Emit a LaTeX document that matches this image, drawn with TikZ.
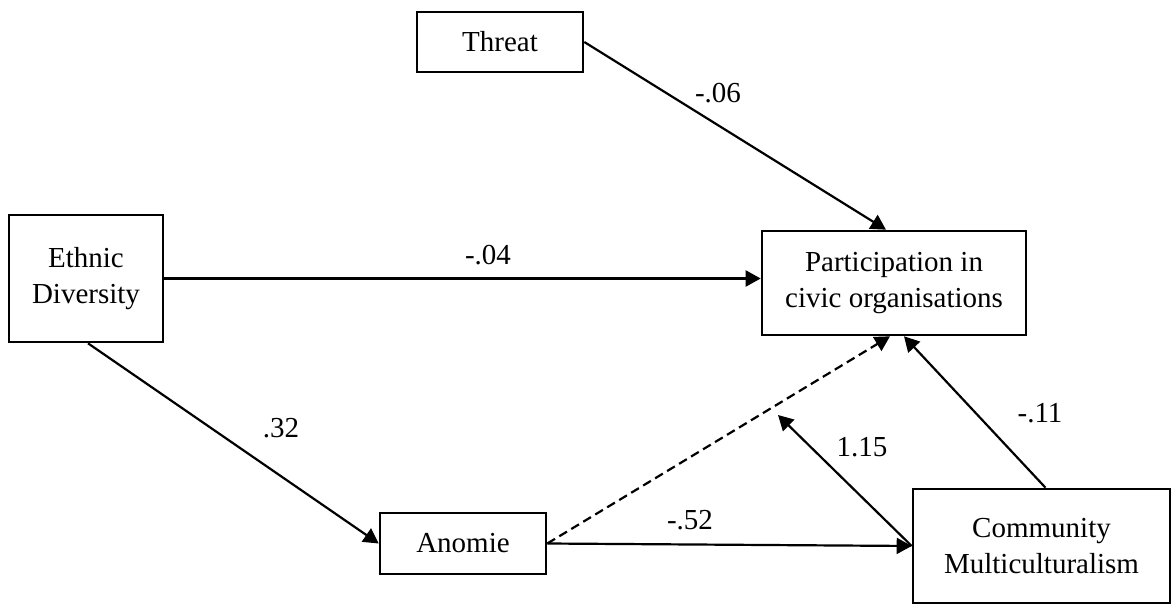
\documentclass[tikz,border=0pt]{standalone}
\usepackage{fontspec}
\setmainfont{Liberation Serif}
\usetikzlibrary{arrows.meta}
\begin{document}
\begin{tikzpicture}[x=1pt,y=-1pt,
  box/.style={draw,line width=2.6pt,align=center,inner sep=0pt,font=\fontsize{29}{36}\selectfont},
  lbl/.style={font=\fontsize{29}{36}\selectfont,inner sep=0pt},
  path/.style={line width=2.2pt,-{Triangle[length=15pt,width=16pt]}}]
\useasboundingbox (0,0) rectangle (1173,604);
\node[box,minimum width=166pt,minimum height=60pt] (threat) at (500,42) {Threat};
\node[box,minimum width=154pt,minimum height=127pt] (ed) at (86,278.5) {Ethnic\\Diversity};
\node[box,minimum width=264pt,minimum height=104pt] (part) at (894,283) {Participation in\\civic organisations};
\node[box,minimum width=166pt,minimum height=61pt] (anomie) at (463,543.5) {Anomie};
\node[box,minimum width=257pt,minimum height=114pt] (cm) at (1041.5,546) {Community\\Multiculturalism};
\coordinate (mod) at (778,415);
\draw[path] (threat.east) -- ([xshift=-8pt]part.north);
\draw[path] (ed.east) -- (ed.east -| part.west);
\draw[path] ([xshift=2pt]ed.south) -- (anomie.west);
\draw[path,dashed,dash pattern=on 9pt off 5pt] (anomie.east) -- ([xshift=-4pt]part.south);
\draw[path] (anomie.east) -- (cm.west);
\draw[path] ([xshift=4pt]cm.north) -- ([xshift=10pt]part.south);
\draw[path] (cm.west) -- (mod);
\node[lbl] (l1) at (718,93) {-.06};
\node[lbl] (l2) at (488,255) {-.04};
\node[lbl] (l3) at (281,428) {.32};
\node[lbl] (l4) at (862,447) {1.15};
\node[lbl] (l5) at (690,520) {-.52};
\node[lbl] (l6) at (1040,413) {-.11};
\end{tikzpicture}
\end{document}
